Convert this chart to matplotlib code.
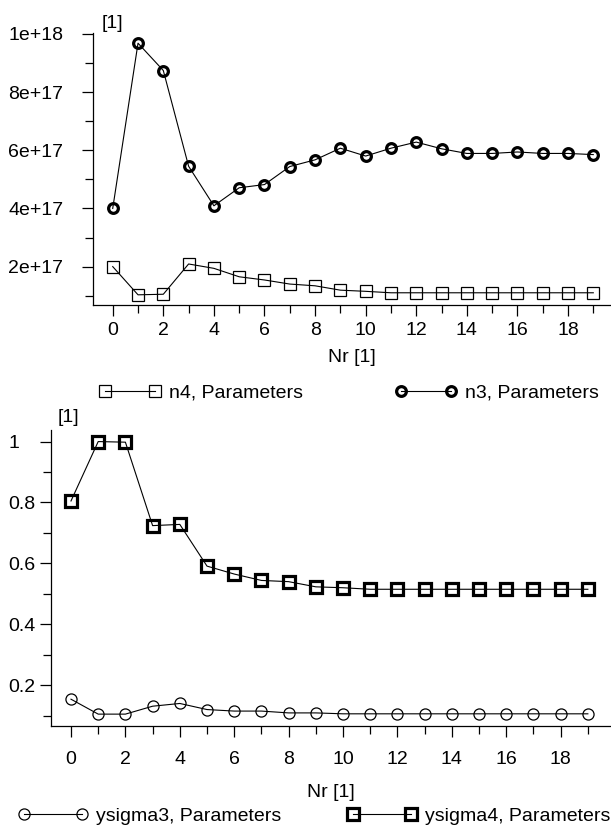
import matplotlib
matplotlib.use("Agg")
import matplotlib.pyplot as plt
from matplotlib.ticker import MultipleLocator

plt.rcParams['font.family'] = ['Liberation Sans Narrow', 'Liberation Sans', 'DejaVu Sans']

# data
nr = list(range(20))
n3 = [4.00e17, 9.68e17, 8.74e17, 5.45e17, 4.09e17, 4.71e17, 4.82e17, 5.44e17, 5.67e17, 6.07e17,
      5.80e17, 6.07e17, 6.28e17, 6.05e17, 5.89e17, 5.89e17, 5.94e17, 5.89e17, 5.89e17, 5.85e17]
n4 = [2.00e17, 1.03e17, 1.05e17, 2.09e17, 1.94e17, 1.65e17, 1.54e17, 1.40e17, 1.34e17, 1.19e17,
      1.15e17, 1.10e17, 1.10e17, 1.10e17, 1.10e17, 1.10e17, 1.10e17, 1.10e17, 1.10e17, 1.10e17]
ysigma4 = [0.805, 1.000, 0.998, 0.724, 0.728, 0.591, 0.565, 0.544, 0.540, 0.523,
           0.520, 0.515, 0.515, 0.515, 0.515, 0.515, 0.515, 0.515, 0.515, 0.515]
ysigma3 = [0.154, 0.105, 0.105, 0.131, 0.140, 0.120, 0.115, 0.115, 0.109, 0.109,
           0.106, 0.106, 0.106, 0.106, 0.106, 0.106, 0.106, 0.106, 0.106, 0.106]
top_yticks = [2e17, 4e17, 6e17, 8e17, 1e18]
top_ylabels = ['2e+17', '4e+17', '6e+17', '8e+17', '1e+18']
bot_yticks = [0.2, 0.4, 0.6, 0.8, 1.0]
bot_ylabels = ['0.2', '0.4', '0.6', '0.8', '1']
xticks = list(range(0, 20, 2))

W, H = 611, 835
FS = 14
fig = plt.figure(figsize=(W / 100, H / 100), dpi=100)


def style_axis(ax, ypad_px, xpad=3, labelpad=6):
    for s in ['top', 'right']:
        ax.spines[s].set_visible(False)
    for s in ['left', 'bottom']:
        ax.spines[s].set_linewidth(0.9)
    ax.xaxis.set_major_locator(MultipleLocator(2))
    ax.xaxis.set_minor_locator(MultipleLocator(1))
    ax.tick_params(which='major', length=8.2, width=0.9, labelsize=FS)
    ax.tick_params(which='minor', length=5.8, width=0.9)
    ax.tick_params(axis='x', which='major', pad=xpad)
    ax.tick_params(axis='y', which='major', pad=ypad_px * 0.72)
    for lab in ax.get_yticklabels():
        lab.set_horizontalalignment('left')
    ax.set_xlabel('Nr [1]', fontsize=FS, labelpad=labelpad)


def legend_item(line, label, x0_px, y_px, hl):
    return fig.legend([line], [label], loc='center left', frameon=False,
                      bbox_to_anchor=(x0_px / W, 1 - y_px / H), borderpad=0,
                      borderaxespad=0, handlelength=hl, handletextpad=0.4,
                      numpoints=2, fontsize=FS)


# top panel
ax1 = fig.add_axes([93 / W, 1 - 305 / H, 518 / W, 272 / H])
l_n4, = ax1.plot(nr, n4, color='black', lw=0.8, marker='s', ms=8, mew=0.9,
                 mfc='none', mec='black', clip_on=False)
l_n3, = ax1.plot(nr, n3, color='black', lw=0.8, marker='o', ms=7, mew=2.3,
                 mfc='none', mec='black', clip_on=False)
ax1.set_xlim(-0.78, 19.70)
ax1.set_ylim(0.68e17, 1.003e18)
ax1.yaxis.set_minor_locator(MultipleLocator(1e17))
ax1.set_yticks(top_yticks)
ax1.set_yticklabels(top_ylabels)
ax1.set_xticks(xticks)
style_axis(ax1, 93 - 11.5 - 8, xpad=4, labelpad=7)
fig.text(102 / W, 1 - 23 / H, '[1]', fontsize=FS, ha='left', va='center')
legend_item(l_n4, 'n4, Parameters', 99, 393, 3.2)
legend_item(l_n3, 'n3, Parameters', 395, 393, 3.2)

# bottom panel
ax2 = fig.add_axes([50.7 / W, 1 - 726 / H, (W - 50.7) / W, 296 / H])
l_s3, = ax2.plot(nr, ysigma3, color='black', lw=0.8, marker='o', ms=8, mew=0.9,
                 mfc='none', mec='black', clip_on=False)
l_s4, = ax2.plot(nr, ysigma4, color='black', lw=0.8, marker='s', ms=8, mew=2.3,
                 mfc='none', mec='black', clip_on=False)
ax2.set_xlim(-0.746, 19.85)
ax2.set_ylim(0.066, 1.038)
ax2.yaxis.set_minor_locator(MultipleLocator(0.1))
ax2.set_yticks(bot_yticks)
ax2.set_yticklabels(bot_ylabels, fontsize=FS + 1)
ax2.set_xticks(xticks)
style_axis(ax2, 50.7 - 11.5 - 8, xpad=10, labelpad=11)
fig.text(58 / W, 1 - 418 / H, '[1]', fontsize=FS, ha='left', va='center')
legend_item(l_s3, 'ysigma3, Parameters', 18, 816, 3.6)
legend_item(l_s4, 'ysigma4, Parameters', 347, 816, 3.6)

fig.savefig('out.png', dpi=100)
